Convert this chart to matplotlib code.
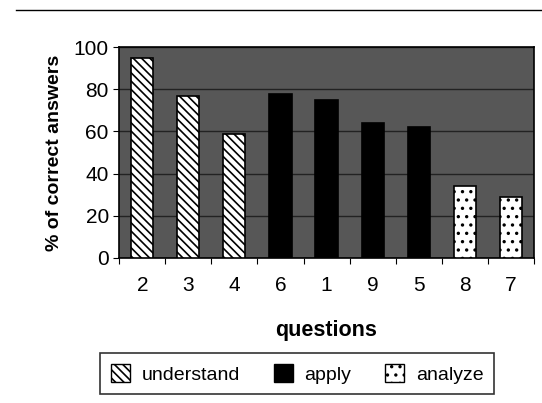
import matplotlib.pyplot as plt
from matplotlib.patches import Patch

plt.rcParams['font.family'] = ['Liberation Sans', 'DejaVu Sans']
plt.rcParams['hatch.linewidth'] = 1.2

questions = ["2", "3", "4", "6", "1", "9", "5", "8", "7"]
correct = [95, 77, 59, 78, 75, 64, 62, 34, 29]
levels = ["understand", "understand", "understand", "apply", "apply", "apply", "apply", "analyze", "analyze"]

styles = {
    "understand": dict(color="white", hatch="\\\\\\\\"),
    "apply": dict(color="black", hatch=""),
    "analyze": dict(color="white", hatch=".."),
}

fig = plt.figure(figsize=(5.42, 4.03), dpi=100)
ax = fig.add_axes([0.22, 0.36, 0.765, 0.523])
ax.set_facecolor("#575757")

n = len(questions)
for i, q in enumerate(questions):
    st = styles[levels[i]]
    ax.bar(i, correct[i], width=0.48, facecolor=st["color"], edgecolor="black",
           hatch=st["hatch"], linewidth=1.2, zorder=3)

ax.set_xlim(-0.5, n - 0.5)
ax.set_ylim(0, 100)
ax.set_yticks([0, 20, 40, 60, 80, 100])
# ticks at category boundaries, labels at centres
ax.set_xticks([k - 0.5 for k in range(n + 1)])
ax.set_xticklabels([])
ax.set_xticks(list(range(n)), minor=True)
ax.set_xticklabels(questions, minor=True)
ax.tick_params(axis="x", which="major", length=4)
ax.tick_params(axis="x", which="minor", length=0, pad=13, labelsize=15)
ax.tick_params(axis="y", labelsize=15, length=4)
ax.yaxis.grid(True, color="#222222", linewidth=1, zorder=0)
for s in ax.spines.values():
    s.set_linewidth(1.2)

ax.set_xlabel("questions", fontsize=15.5, fontweight="bold", labelpad=18)
ax.set_ylabel("% of correct answers", fontsize=14, fontweight="bold", labelpad=8)

handles = [Patch(facecolor=styles[k]["color"], edgecolor="black", hatch=styles[k]["hatch"], label=k)
           for k in ["understand", "apply", "analyze"]]
leg = fig.legend(handles=handles, loc="upper left", bbox_to_anchor=(0.185, 0.124),
                 ncol=3, fontsize=14, frameon=True, fancybox=False, edgecolor="black",
                 handlelength=1.0, handleheight=1.1, handletextpad=0.6, columnspacing=1.7,
                 borderpad=0.55, borderaxespad=0)
leg.get_frame().set_linewidth(1.2)

fig.add_artist(plt.Line2D([0.03, 1.0], [0.975, 0.975], color="black", linewidth=1, transform=fig.transFigure))

fig.savefig("out.png", dpi=100)
